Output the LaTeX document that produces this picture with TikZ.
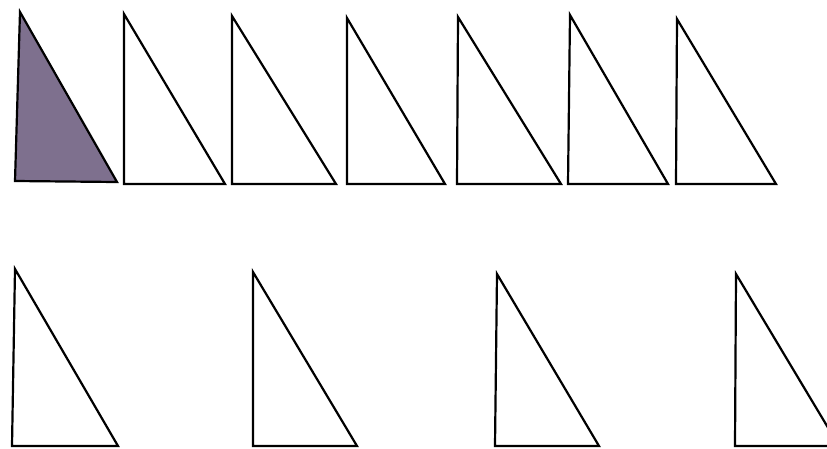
\documentclass[tikz,border=0pt]{standalone}
\usepackage{tikz}

\definecolor{shade}{RGB}{126,112,142}

\begin{document}
\begin{tikzpicture}[x=1pt,y=-1pt]
		\tikzset{tri/.style={black,line width=2.2pt,line join=miter}}
		\useasboundingbox (0,0) rectangle (827,448);
		\clip (0,0) rectangle (827,448);
		% top row
		\filldraw [tri,fill=shade] (20,12) -- (15,181) -- (117,182) -- cycle;
		\foreach \a/\b/\c/\d in {124/14/124/225, 232/16/232/336, 347/18/347/445, 458/17/457/561, 570/15/568/668, 677/19/676/776}
			\draw [tri] (\a,\b) -- (\c,184) -- (\d,184) -- cycle;
		% bottom row
		\foreach \a/\b/\c/\d in {15/269/12/118, 253/272/253/357, 497/274/495/599, 736/274/735/839}
			\draw [tri] (\a,\b) -- (\c,446) -- (\d,446) -- cycle;
	\end{tikzpicture}
\end{document}
